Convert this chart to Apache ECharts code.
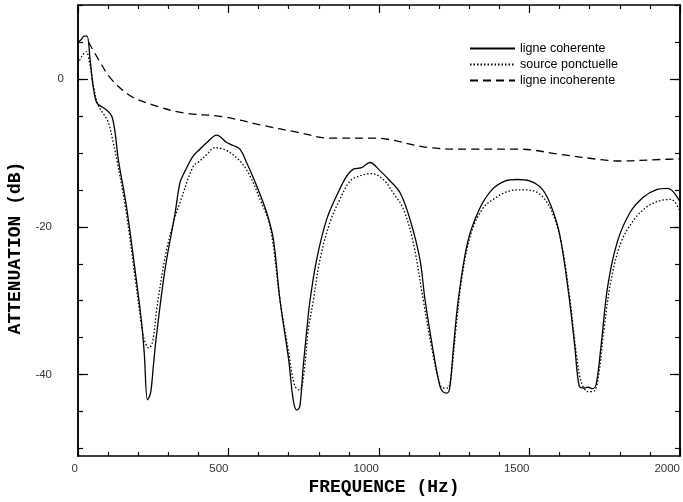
<!DOCTYPE html>
<html>
<head>
<meta charset="utf-8">
<script src="https://cdn.jsdelivr.net/npm/echarts@6/dist/echarts.min.js"></script>
<style>html,body{margin:0;padding:0;background:#fff;}#c{width:683px;height:502px;}</style>
</head>
<body>
<div id="c"></div>
<script>
// ---- data ----
const seriesNames = ['ligne coherente', 'source ponctuelle', 'ligne incoherente'];

const freqCoh = [0, 10, 20, 30, 40, 50, 62, 80, 95, 112, 123, 134, 160, 190, 210, 220, 231, 241, 250, 259, 289, 322, 339, 355, 383, 405, 428, 461, 494, 516, 538, 560, 594, 627, 649, 671, 700, 715, 727, 737, 748, 760, 771, 793, 826, 859, 893, 915, 942, 970, 1003, 1037, 1070, 1103, 1136, 1153, 1185, 1202, 1212, 1225, 1235, 1246, 1263, 1295, 1335, 1375, 1420, 1460, 1500, 1540, 1570, 1600, 1630, 1650, 1665, 1680, 1695, 1710, 1722, 1738, 1760, 1792, 1835, 1878, 1920, 1960, 2000];
const attCoh = [5.0, 5.3, 5.8, 5.8, 2.7, -0.9, -3.2, -3.8, -4.2, -5.0, -7.2, -10.9, -17, -26, -32.5, -37, -43.4, -42.5, -39, -35.3, -25.8, -18.3, -14.0, -12.5, -10.4, -9.5, -8.6, -7.6, -8.6, -9.0, -9.5, -11.3, -14.5, -18.1, -21.7, -29.9, -38, -43.4, -44.8, -44.3, -39, -34, -29.9, -24.4, -19.0, -15.8, -13.1, -12.2, -12.0, -11.3, -12.4, -13.8, -15.4, -19.0, -24.4, -29.9, -38, -41.5, -42.3, -42.5, -41.8, -37, -30, -22, -17.5, -15, -13.8, -13.6, -13.8, -14.8, -17, -21, -29, -36, -41.5, -41.8, -41.7, -41.9, -41.2, -36, -28, -22, -18, -16, -15, -14.8, -16.6];

const freqPon = [5, 15, 27, 40, 51, 67, 84, 101, 117, 129, 160, 190, 210, 222, 235, 248, 262, 290, 320, 339, 383, 405, 428, 455, 494, 538, 571, 605, 638, 671, 700, 720, 737, 750, 765, 782, 804, 837, 870, 904, 937, 976, 1014, 1047, 1081, 1114, 1147, 1178, 1197, 1212, 1228, 1240, 1255, 1275, 1305, 1345, 1390, 1430, 1470, 1510, 1545, 1575, 1605, 1635, 1655, 1672, 1695, 1715, 1730, 1747, 1772, 1805, 1848, 1890, 1930, 1970, 2000];
const attPon = [2.5, 3.2, 3.7, 1.8, -0.9, -3.6, -4.7, -5.9, -8.6, -10.9, -18, -27, -33, -35.5, -36.4, -35.5, -31, -24, -19, -16.7, -11.8, -11.1, -10.2, -9.3, -9.7, -11.1, -13.1, -16.3, -19.9, -29.9, -37, -41.5, -42.1, -40, -34, -29.9, -24.4, -19.4, -16.3, -13.8, -13.1, -12.8, -13.6, -15.4, -17.6, -22.2, -29.9, -37, -40.5, -41.8, -41.8, -40, -34, -27, -21, -17.5, -16, -15.2, -15.0, -15.1, -16, -18, -22, -30, -37, -41, -42.3, -42.2, -40, -34, -27, -22, -19, -17.3, -16.5, -16.3, -17.9];

const freqInc = [35, 70, 110, 175, 255, 350, 480, 616, 727, 837, 981, 1169, 1302, 1468, 1601, 1734, 1800, 1934, 2000];
const attInc = [5.0, 2.5, 0, -2.3, -3.6, -4.6, -5.1, -6.3, -7.2, -8.0, -8.0, -9.3, -9.5, -9.5, -10.2, -10.9, -11.1, -10.9, -10.8];

const xLabelValues = [0, 500, 1000, 1500, 2000];
const yLabelValues = [-40, -20, 0];
const yMinorValues = [-50, -45, -40, -35, -30, -25, -20, -15, -10, -5, 0, 5, 10];

const zip = (a, b) => a.map((v, i) => [v, b[i]]);

const chart = echarts.init(document.getElementById('c'), null, {renderer: 'canvas'});
const axisCol = '#000';
const labelFont = {fontFamily: 'Liberation Sans, Arial, sans-serif', fontSize: 11.5, color: '#333'};
const titleFont = 'bold 18px "Liberation Mono", "Courier New", monospace';

const yBase = {
  type: 'value', min: -51, max: 10, splitLine: {show: false},
  axisLine: {show: true, onZero: false, lineStyle: {color: axisCol, width: 1.5}}
};

const option = {
  animation: false,
  backgroundColor: '#fff',
  grid: {left: 78, right: 3, top: 5, bottom: 46},
  legend: {
    orient: 'vertical', left: 469, top: 42, padding: 0,
    itemWidth: 45, itemHeight: 10, itemGap: 3,
    itemStyle: {color: 'transparent', borderColor: 'transparent', borderWidth: 0},
    textStyle: {fontFamily: 'Liberation Sans, Arial, sans-serif', fontSize: 12.5, color: '#000'},
    data: seriesNames
  },
  xAxis: [
    {
      type: 'value', min: 0, max: 2000, interval: 500, position: 'bottom',
      axisLine: {show: true, onZero: false, lineStyle: {color: axisCol, width: 1.5}},
      axisTick: {show: true, inside: true, length: 8, lineStyle: {color: axisCol, width: 1.2}},
      minorTick: {show: true, splitNumber: 5, length: 4, lineStyle: {color: axisCol, width: 1.2}},
      splitLine: {show: false},
      axisLabel: Object.assign({margin: 7, align: 'right', customValues: xLabelValues, formatter: v => String(v)}, labelFont)
    },
    {
      type: 'value', min: 0, max: 2000, interval: 500, position: 'top',
      axisLine: {show: true, onZero: false, lineStyle: {color: axisCol, width: 1.5}},
      axisTick: {show: true, inside: true, length: 8, lineStyle: {color: axisCol, width: 1.2}},
      minorTick: {show: true, splitNumber: 5, length: 4, lineStyle: {color: axisCol, width: 1.2}},
      splitLine: {show: false},
      axisLabel: {show: false}
    }
  ],
  yAxis: [
    Object.assign({}, yBase, {
      position: 'left',
      axisTick: {show: true, inside: true, length: 10, customValues: yLabelValues, lineStyle: {color: axisCol, width: 1.2}},
      axisLabel: Object.assign({
        customValues: yLabelValues, margin: 14, align: 'right',
        formatter: v => v === 0 ? '0' : '{n|' + v + '}',
        rich: {n: Object.assign({padding: [0, 12, 0, 0]}, labelFont)}
      }, labelFont)
    }),
    Object.assign({}, yBase, {
      position: 'left',
      axisTick: {show: true, inside: true, length: 5, customValues: yMinorValues, lineStyle: {color: axisCol, width: 1.2}},
      axisLabel: {show: false}
    }),
    Object.assign({}, yBase, {
      position: 'right',
      axisTick: {show: true, inside: true, length: 10, customValues: yLabelValues, lineStyle: {color: axisCol, width: 1.2}},
      axisLabel: {show: false}
    }),
    Object.assign({}, yBase, {
      position: 'right',
      axisTick: {show: true, inside: true, length: 5, customValues: yMinorValues, lineStyle: {color: axisCol, width: 1.2}},
      axisLabel: {show: false}
    })
  ],
  graphic: [
    {
      type: 'text', x: 384, y: 487,
      style: {text: 'FREQUENCE (Hz)', font: titleFont, fill: '#000', align: 'center', verticalAlign: 'middle'}
    },
    {
      type: 'text', x: 15, y: 248, rotation: Math.PI / 2,
      style: {text: 'ATTENUATION (dB)', font: titleFont, fill: '#000', align: 'center', verticalAlign: 'middle'}
    }
  ],
  series: [
    {
      name: seriesNames[0], type: 'line', data: zip(freqCoh, attCoh), symbol: 'none', smooth: 0.35,
      lineStyle: {color: '#000', width: 1.3, type: 'solid'}, itemStyle: {color: '#000'}
    },
    {
      name: seriesNames[1], type: 'line', data: zip(freqPon, attPon), symbol: 'none', smooth: 0.35,
      lineStyle: {color: '#000', width: 1.3, type: [1.5, 2]}, itemStyle: {color: '#000'}
    },
    {
      name: seriesNames[2], type: 'line', data: zip(freqInc, attInc), symbol: 'none', smooth: 0.35,
      lineStyle: {color: '#000', width: 1.3, type: [8, 5]}, itemStyle: {color: '#000'}
    }
  ]
};
chart.setOption(option);
</script>
</body>
</html>
